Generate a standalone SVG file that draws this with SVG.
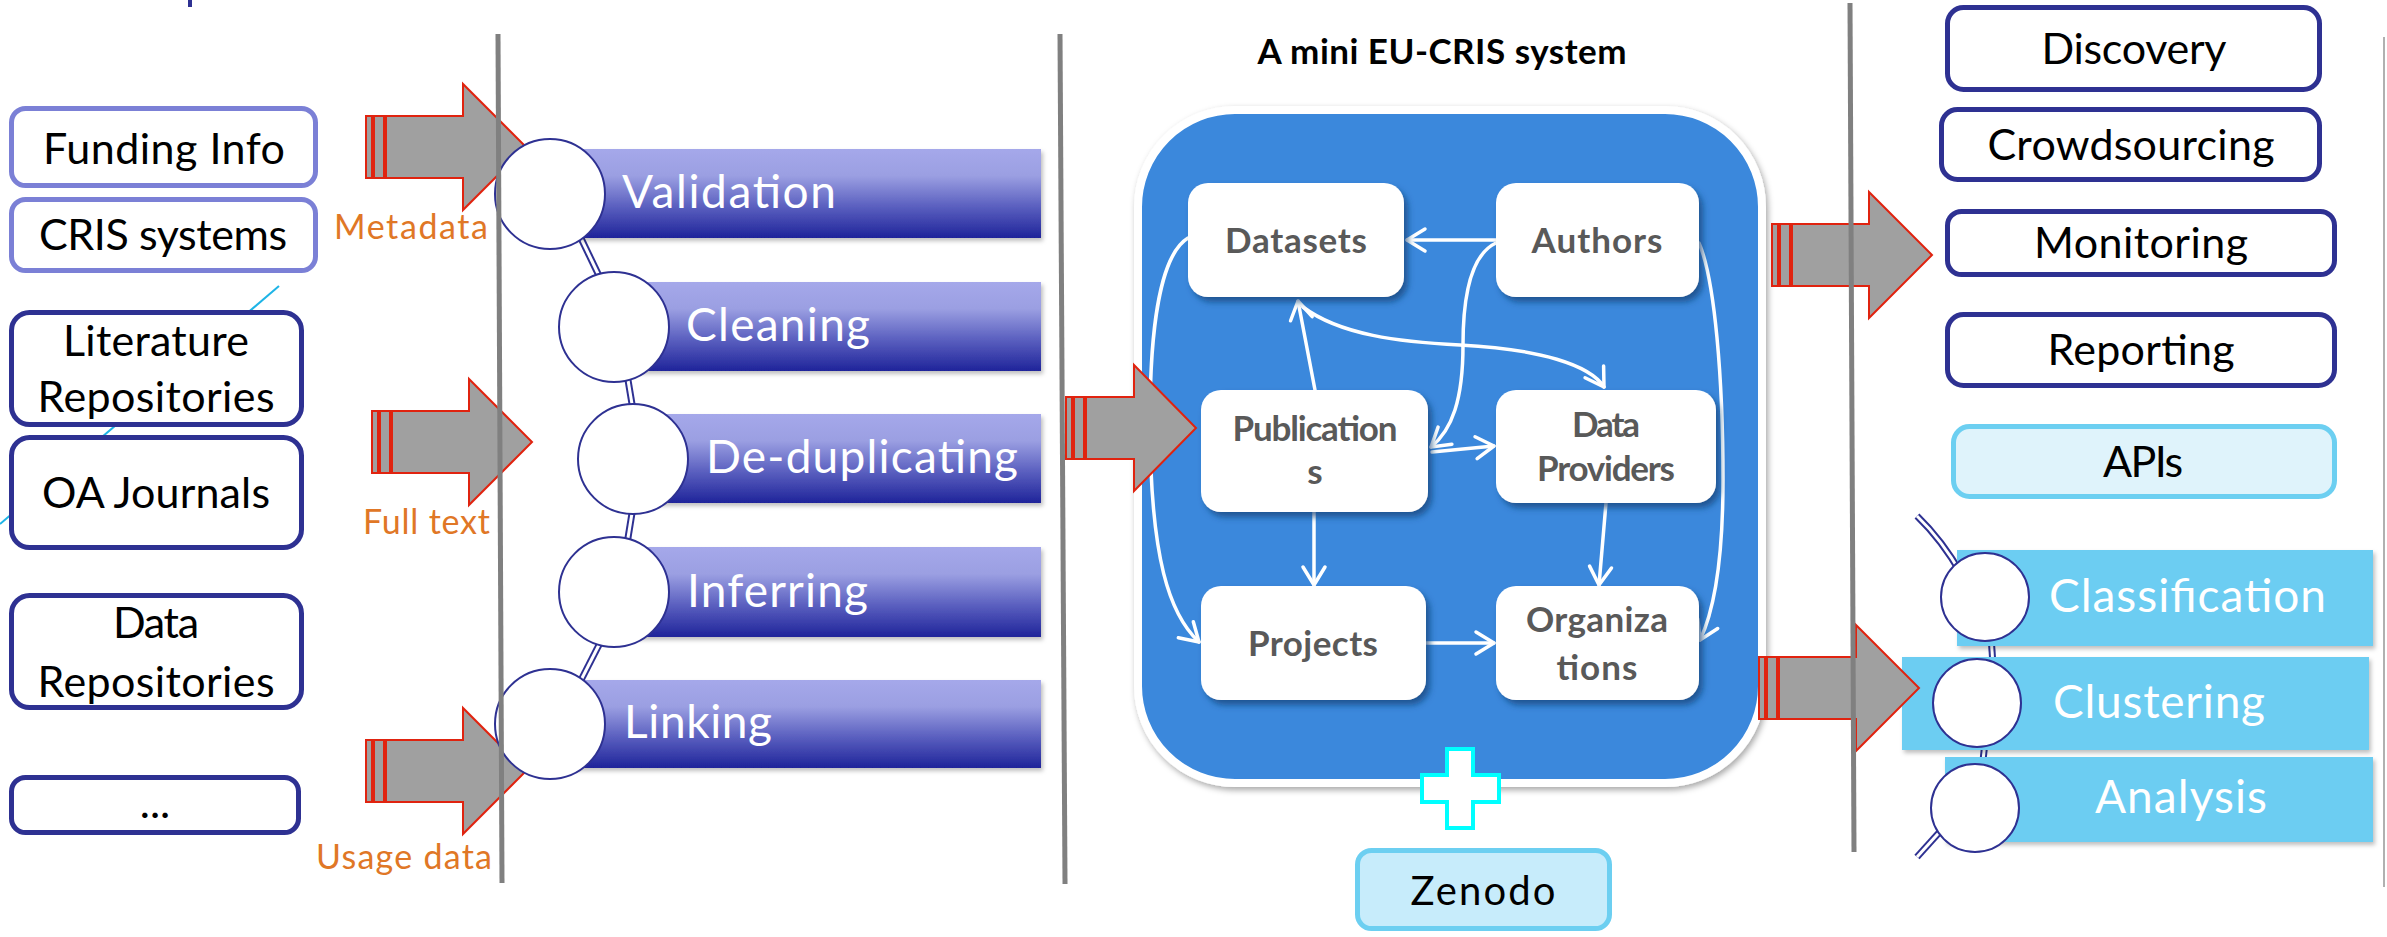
<svg xmlns="http://www.w3.org/2000/svg" xmlns:xlink="http://www.w3.org/1999/xlink" width="2387" height="937" viewBox="0 0 2387 937">
<style>
  text { font-family: Lato, "Liberation Sans", sans-serif; }
  .box { fill: #ffffff; stroke: #2e3192; stroke-width: 5; }
  .boxl { fill: #ffffff; stroke: #7b80d6; stroke-width: 5; }
  .boxc { fill: #dff3fb; stroke: #6ccff1; stroke-width: 5; }
  .t43 { font-size: 43px; fill: #000000; text-anchor: middle; }
  .lbl { font-size: 34px; fill: #e07726; text-anchor: end; }
  .bar { fill: url(#barGrad); filter: url(#barShadow); }
  .bart { font-size: 46px; fill: #ffffff; }
  .cbar { fill: #6ccdf2; filter: url(#barShadow); }
  .cbart { font-size: 46px; fill: #ffffff; }
  .circ { fill: #ffffff; stroke: #2e3192; stroke-width: 2; }
  .dblo { stroke: #2e3192; stroke-width: 7; fill: none; }
  .dbli { stroke: #ffffff; stroke-width: 3; fill: none; }
  .arr { fill: #a0a0a0; stroke: #e0230f; stroke-width: 2; }
  .sep { stroke: #808080; stroke-width: 5; }
  .node { fill: #ffffff; filter: url(#nodeShadow); }
  .nt { font-size: 35px; font-weight: bold; fill: #595959; text-anchor: middle; }
  .con { stroke: #ffffff; stroke-width: 3.5; fill: none; stroke-linecap: round; marker-end: url(#chev); }
</style>
<defs>
  <linearGradient id="barGrad" x1="0" y1="0" x2="0" y2="1">
    <stop offset="0" stop-color="#a5a8ea"/>
    <stop offset="0.3" stop-color="#9b9fe2"/>
    <stop offset="0.65" stop-color="#5a5fbf"/>
    <stop offset="1" stop-color="#1f249a"/>
  </linearGradient>
  <filter id="barShadow" x="-5%" y="-10%" width="115%" height="130%">
    <feDropShadow dx="2" dy="3" stdDeviation="2" flood-color="#000000" flood-opacity="0.25"/>
  </filter>
  <filter id="nodeShadow" x="-10%" y="-10%" width="130%" height="140%">
    <feDropShadow dx="4" dy="5" stdDeviation="3" flood-color="#163f73" flood-opacity="0.7"/>
  </filter>
  <filter id="bigShadow" x="-5%" y="-5%" width="110%" height="110%">
    <feDropShadow dx="2" dy="3" stdDeviation="3" flood-color="#000000" flood-opacity="0.35"/>
  </filter>
  <marker id="chev" viewBox="-24 -16 28 32" refX="0" refY="0" markerWidth="28" markerHeight="32" markerUnits="userSpaceOnUse" orient="auto">
    <path d="M-18,-11 L0,0 L-18,11" fill="none" stroke="#ffffff" stroke-width="3.5" stroke-linecap="round" stroke-linejoin="round"/>
  </marker>
  <g id="arr160">
    <rect x="0" y="-31" width="6" height="62"/>
    <rect x="8" y="-31" width="10" height="62"/>
    <path d="M20,-31 H97 V-63 L160,0 L97,63 V31 H20 Z"/>
  </g>
</defs>

<rect x="0" y="0" width="2387" height="937" fill="#ffffff"/>

<!-- decoration -->
<path d="M190,0 V7" stroke="#2e3192" stroke-width="4"/>
<path d="M279,286 L0,524" stroke="#1eb4e6" stroke-width="2"/>

<!-- left sources -->
<g id="n-funding"><rect class="boxl" x="11.5" y="108.5" width="304" height="77" rx="14"/><text class="t43" x="164" y="164" textLength="242">Funding Info</text></g>
<g id="n-crissys"><rect class="boxl" x="11.5" y="199.5" width="304" height="71" rx="14"/><text class="t43" x="163" y="250" textLength="248">CRIS systems</text></g>
<g id="n-litrepo"><rect class="box" x="11.5" y="312.5" width="290" height="112" rx="18"/><text class="t43" x="156" y="356" textLength="186">Literature</text><text class="t43" x="156" y="412" textLength="237">Repositories</text></g>
<g id="n-oa"><rect class="box" x="11.5" y="437.5" width="290" height="110" rx="18"/><text class="t43" x="156" y="508" textLength="228">OA Journals</text></g>
<g id="n-datarepo"><rect class="box" x="11.5" y="595.5" width="290" height="112" rx="18"/><text class="t43" x="156" y="638" textLength="86">Data</text><text class="t43" x="156" y="697" textLength="237">Repositories</text></g>
<g id="n-more"><rect class="box" x="11.5" y="777.5" width="287" height="55" rx="14"/><text class="t43" x="155" y="818">...</text></g>

<!-- input arrows -->
<g id="a-metadata"><use href="#arr160" class="arr" transform="translate(366,147)"/><text class="lbl" x="488" y="239" textLength="154">Metadata</text></g>
<g id="a-fulltext"><use href="#arr160" class="arr" transform="translate(372,442)"/><text class="lbl" x="490" y="534" textLength="127">Full text</text></g>
<g id="a-usage"><use href="#arr160" class="arr" transform="translate(366,771)"/><text class="lbl" x="492" y="869" textLength="176">Usage data</text></g>

<!-- process chain connectors -->
<g id="chain-connectors">
  <path class="dblo" d="M578,232 L602,282"/><path class="dbli" d="M578,232 L602,282"/>
  <path class="dblo" d="M627,374 L633,410"/><path class="dbli" d="M627,374 L633,410"/>
  <path class="dblo" d="M633,507 L627,544"/><path class="dbli" d="M633,507 L627,544"/>
  <path class="dblo" d="M602,639 L578,686"/><path class="dbli" d="M602,639 L578,686"/>
</g>

<!-- process steps -->
<g id="n-validation"><rect class="bar" x="550" y="149" width="491" height="89"/><circle class="circ" cx="550" cy="194" r="55"/><text class="bart" x="622" y="208" textLength="214">Validation</text></g>
<g id="n-cleaning"><rect class="bar" x="614" y="282" width="427" height="89"/><circle class="circ" cx="614" cy="327" r="55"/><text class="bart" x="686" y="341" textLength="184">Cleaning</text></g>
<g id="n-dedup"><rect class="bar" x="633" y="414" width="408" height="89"/><circle class="circ" cx="633" cy="459" r="55"/><text class="bart" x="706" y="473" textLength="312">De-duplicating</text></g>
<g id="n-inferring"><rect class="bar" x="614" y="547" width="427" height="90"/><circle class="circ" cx="614" cy="592" r="55"/><text class="bart" x="687" y="607" textLength="181">Inferring</text></g>
<g id="n-linking"><rect class="bar" x="550" y="680" width="491" height="88"/><circle class="circ" cx="550" cy="724" r="55"/><text class="bart" x="624" y="738" textLength="148">Linking</text></g>

<!-- CRIS system -->
<text x="1442" y="64" font-size="35" font-weight="bold" fill="#000000" text-anchor="middle" textLength="369">A mini EU-CRIS system</text>
<g id="n-crisbox"><rect x="1138" y="110" width="624" height="673" rx="97" fill="#3a88dc" stroke="#ffffff" stroke-width="8" filter="url(#bigShadow)"/></g>

<g id="cris-connectors">
  <path class="con" d="M1496,240 L1407,240"/>
  <path class="con" d="M1315,390 L1298,301"/>
  <path class="con" d="M1303,307 C1340,335 1400,342 1460,345 C1540,349 1590,365 1604,387"/>
  <path class="con" d="M1496,243 C1470,255 1463,300 1463,345 C1463,400 1452,430 1431,447"/>
  <path class="con" d="M1432,452 L1494,446"/>
  <path class="con" d="M1314,512 L1314,585"/>
  <path class="con" d="M1606,503 L1599,585"/>
  <path class="con" d="M1426,643 L1494,643"/>
  <path class="con" d="M1188,238 C1160,255 1150,330 1150,420 C1150,560 1170,615 1199,642"/>
  <path class="con" d="M1699,243 C1715,280 1723,380 1723,480 C1723,570 1712,615 1700,640"/>
</g>

<g id="n-datasets"><rect class="node" x="1188" y="183" width="216" height="114" rx="20"/><text class="nt" x="1296" y="253" textLength="142">Datasets</text></g>
<g id="n-authors"><rect class="node" x="1496" y="183" width="203" height="114" rx="20"/><text class="nt" x="1597" y="253" textLength="131">Authors</text></g>
<g id="n-publications"><rect class="node" x="1201" y="390" width="227" height="122" rx="20"/><text class="nt" x="1315" y="441" textLength="165">Publication</text><text class="nt" x="1315" y="484">s</text></g>
<g id="n-dataproviders"><rect class="node" x="1496" y="390" width="220" height="113" rx="20"/><text class="nt" x="1606" y="437" textLength="68">Data</text><text class="nt" x="1606" y="481" textLength="138">Providers</text></g>
<g id="n-projects"><rect class="node" x="1201" y="586" width="225" height="114" rx="20"/><text class="nt" x="1313" y="656" textLength="130">Projects</text></g>
<g id="n-organizations"><rect class="node" x="1496" y="586" width="203" height="114" rx="20"/><text class="nt" x="1597" y="632" textLength="142">Organiza</text><text class="nt" x="1597" y="680" textLength="81">tions</text></g>

<g id="a-cris">
  <g class="arr" transform="translate(1066,428)">
    <rect x="0" y="-31" width="6" height="62"/>
    <rect x="8" y="-31" width="10" height="62"/>
    <path d="M20,-31 H68 V-63 L130,0 L68,63 V31 H20 Z"/>
  </g>
</g>

<g id="n-plus"><path d="M1447,749 H1473 V775 H1499 V802 H1473 V828 H1447 V802 H1422 V775 H1447 Z" fill="#ffffff" stroke="#00ffff" stroke-width="4"/></g>
<g id="n-zenodo"><rect x="1357.5" y="850.5" width="252" height="78" rx="14" fill="#c7ecfb" stroke="#6ccff1" stroke-width="5"/><text x="1483" y="905" font-size="40" fill="#000000" text-anchor="middle" textLength="145">Zenodo</text></g>

<!-- output arrows -->
<g id="a-monitor"><use href="#arr160" class="arr" transform="translate(1772,255)"/></g>

<!-- right services -->
<g id="n-discovery"><rect class="box" x="1947.5" y="7.5" width="372" height="82" rx="16"/><text class="t43" x="2134" y="64" textLength="185">Discovery</text></g>
<g id="n-crowd"><rect class="box" x="1941.5" y="109.5" width="378" height="70" rx="16"/><text class="t43" x="2131" y="160" textLength="287">Crowdsourcing</text></g>
<g id="n-monitoring"><rect class="box" x="1947.5" y="211.5" width="387" height="63" rx="14"/><text class="t43" x="2141" y="258" textLength="214">Monitoring</text></g>
<g id="n-reporting"><rect class="box" x="1947.5" y="314.5" width="387" height="71" rx="16"/><text class="t43" x="2141" y="365" textLength="187">Reporting</text></g>
<g id="n-apis"><rect class="boxc" x="1953.5" y="426.5" width="381" height="70" rx="16"/><text class="t43" x="2143" y="477" textLength="80">APIs</text></g>

<!-- analytics chain -->
<g id="analytics-connectors">
  <path class="dblo" d="M1917,516 Q1942,540 1962,575"/><path class="dbli" d="M1917,516 Q1942,540 1962,575"/>
  <path class="dblo" d="M1991,636 L1993,665"/><path class="dbli" d="M1991,636 L1993,665"/>
  <path class="dblo" d="M1985,742 L1982,770"/><path class="dbli" d="M1985,742 L1982,770"/>
  <path class="dblo" d="M1945,826 L1917,857"/><path class="dbli" d="M1945,826 L1917,857"/>
</g>
<g id="n-classification"><rect class="cbar" x="1957" y="550" width="416" height="96"/><circle class="circ" cx="1985" cy="597" r="44"/><text class="cbart" x="2049" y="612" textLength="277">Classification</text></g>
<g id="n-clustering"><rect class="cbar" x="1902" y="657" width="467" height="93"/><circle class="circ" cx="1977" cy="703" r="44"/><text class="cbart" x="2053" y="718" textLength="212">Clustering</text></g>
<g id="n-analysis"><rect class="cbar" x="1945" y="757" width="428" height="85"/><circle class="circ" cx="1975" cy="808" r="44"/><text class="cbart" x="2095" y="813" textLength="172">Analysis</text></g>

<g id="a-cluster"><use href="#arr160" class="arr" transform="translate(1759,688)"/></g>

<!-- separators -->
<g id="separators">
  <path class="sep" d="M498,34 L502,883"/>
  <path class="sep" d="M1060,34 L1065,884"/>
  <path class="sep" d="M1850,3 L1854,852"/>
  <path d="M2384,37 L2384,887" stroke="#b0b0b0" stroke-width="2"/>
</g>
</svg>
